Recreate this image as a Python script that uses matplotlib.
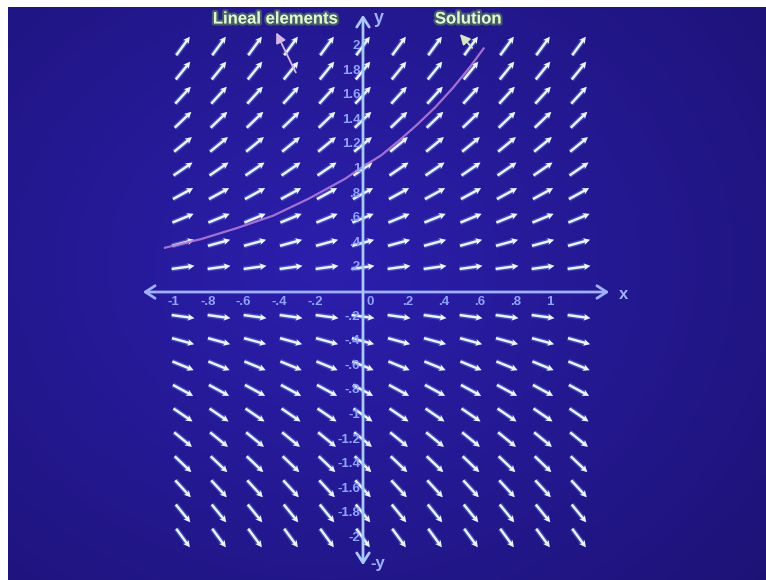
import matplotlib
matplotlib.use("Agg")
import matplotlib.pyplot as plt
import matplotlib.patheffects as pe
import numpy as np

# slope field for dy/dx = y, sampled on a grid
grid_x = [-1.0, -0.8, -0.6, -0.4, -0.2, 0.0, 0.2, 0.4, 0.6, 0.8, 1.0, 1.2]
grid_y = [2.0, 1.8, 1.6, 1.4, 1.2, 1.0, 0.8, 0.6, 0.4, 0.2,
          -0.2, -0.4, -0.6, -0.8, -1.0, -1.2, -1.4, -1.6, -1.8, -2.0]

# solution curve through (0, 1)
curve_x = [-1.1, -0.9, -0.7, -0.5, -0.3, -0.1, 0.0, 0.1, 0.2, 0.3, 0.4, 0.5, 0.6, 0.67]
curve_y = [0.36, 0.43, 0.52, 0.62, 0.76, 0.92, 1.02, 1.11, 1.23, 1.36, 1.50, 1.66, 1.84, 1.98]

x_ticks = [-1.0, -0.8, -0.6, -0.4, -0.2, 0.0, 0.2, 0.4, 0.6, 0.8, 1.0]
x_tick_labels = ["-1", "-.8", "-.6", "-.4", "-.2", "0", ".2", ".4", ".6", ".8", "1"]
y_ticks = [2.0, 1.8, 1.6, 1.4, 1.2, 1.0, 0.8, 0.6, 0.4, 0.2,
           -0.2, -0.4, -0.6, -0.8, -1.0, -1.2, -1.4, -1.6, -1.8, -2.0]
y_tick_labels = ["2", "1.8", "1.6", "1.4", "1.2", "1", ".8", ".6", ".4", ".2",
                 "-.2", "-.4", "-.6", "-.8", "-1", "-1.2", "-1.4", "-1.6", "-1.8", "-2"]

W, H = 766, 580
X0, Y0 = 363, 292        # pixel position of the origin
SX, SY = 180.0, 123.0    # pixels per unit

fig = plt.figure(figsize=(W / 100, H / 100), dpi=100)
fig.patch.set_facecolor("white")

# blue slide background with a soft vignette
bg = fig.add_axes([8 / W, 0, 1 - 8 / W, 1 - 7 / H])
bg.axis("off")
yy, xx = np.mgrid[0:1:200j, 0:1:260j]
r = np.sqrt(((xx - 0.42) / 0.8) ** 2 + ((yy - 0.45) / 0.9) ** 2)
c_in = np.array([0.17, 0.12, 0.68])
c_out = np.array([0.11, 0.07, 0.45])
t = np.clip(r, 0, 1)[..., None]
bg.imshow(c_in * (1 - t) + c_out * t, aspect="auto", interpolation="bilinear",
          extent=[0, 1, 0, 1])

ax = fig.add_axes([0, 0, 1, 1])
ax.set_xlim(-X0 / SX, (W - X0) / SX)
ax.set_ylim((Y0 - H) / SY, Y0 / SY)
ax.axis("off")
ax.patch.set_alpha(0)

axis_col = "#9fb0ff"
label_col = "#8fa2ff"

# axes with open arrow heads
x_lo, x_hi = (140 - X0) / SX, (612 - X0) / SX
y_lo, y_hi = (Y0 - 568) / SY, (Y0 - 12) / SY
ax.annotate("", xy=(x_hi, 0), xytext=(x_lo, 0),
            arrowprops=dict(arrowstyle="<->,head_length=0.7,head_width=0.45",
                            color=axis_col, lw=2))
ax.annotate("", xy=(0, y_hi), xytext=(0, y_lo),
            arrowprops=dict(arrowstyle="<->,head_length=0.7,head_width=0.45",
                            color="#a8c8ff", lw=2))
ax.text(x_hi + 0.04, -0.02, "x", color=axis_col, fontsize=12, fontweight="bold",
        family="Liberation Sans", ha="left", va="center")
ax.text(0.06, y_hi - 0.05, "y", color=axis_col, fontsize=13, fontweight="bold",
        family="Liberation Sans", ha="left", va="center")
ax.text(0.04, y_lo + 0.04, "-y", color=axis_col, fontsize=12, fontweight="bold",
        family="Liberation Sans", ha="left", va="center")

# tick labels
for v, s in zip(x_ticks, x_tick_labels):
    if v == 0:
        xpos, ha = 0.02, "left"
    elif v > 0:
        xpos, ha = v + 0.02, "left"
    else:
        xpos, ha = v - 0.02, "right"
    ax.text(xpos, -0.08, s, color=label_col, fontsize=9.5, fontweight="bold",
            family="Liberation Sans", ha=ha, va="center")
for v, s in zip(y_ticks, y_tick_labels):
    ax.text(-0.015, v, s, color=label_col, fontsize=9.5, fontweight="bold",
            family="Liberation Sans", ha="right", va="center")

# lineal elements: constant on-screen length, direction (1, y)
gx, gy = np.meshgrid(grid_x, grid_y)
slope = gy
px, py = SX * np.ones_like(slope), SY * slope
n = np.hypot(px, py)
L = 23.0
U = L * px / n / SX
V = L * py / n / SY
qkw = dict(angles="xy", scale_units="xy", scale=1, pivot="middle")
ax.quiver(gx, gy, U, V, color="#8fb4ff", alpha=0.3, width=0.0068,
          headwidth=1.5, headlength=1.4, headaxislength=1.3, **qkw)
ax.quiver(gx, gy, U, V, color="#e8f4ff", width=0.0032,
          headwidth=2.7, headlength=2.6, headaxislength=2.3, **qkw)

# solution curve
ax.plot(curve_x, curve_y, color="#b07ad8", lw=1.6, alpha=0.9)

# labels with pointers
txt_fx = [pe.withStroke(linewidth=3, foreground="#5d8a58", alpha=0.6)]
ax.text((275 - X0) / SX, (Y0 - 19) / SY, "Lineal elements", color="#e2f7d0",
        fontsize=12, fontweight="bold", family="Liberation Sans",
        ha="center", va="center", path_effects=txt_fx)
ax.annotate("", xy=((275 - X0) / SX, (Y0 - 30) / SY),
            xytext=((297 - X0) / SX, (Y0 - 75) / SY),
            arrowprops=dict(arrowstyle="-|>,head_length=0.6,head_width=0.3",
                            color="#d4b8e8", lw=1.3))
ax.text((468 - X0) / SX, (Y0 - 19) / SY, "Solution", color="#e2f7d0",
        fontsize=12, fontweight="bold", family="Liberation Sans",
        ha="center", va="center", path_effects=txt_fx)
ax.annotate("", xy=((458 - X0) / SX, (Y0 - 32) / SY),
            xytext=((474 - X0) / SX, (Y0 - 50) / SY),
            arrowprops=dict(arrowstyle="-|>,head_length=0.6,head_width=0.3",
                            color="#d4e8c8", lw=1.3))

fig.savefig("out.png", dpi=100, facecolor="white")
